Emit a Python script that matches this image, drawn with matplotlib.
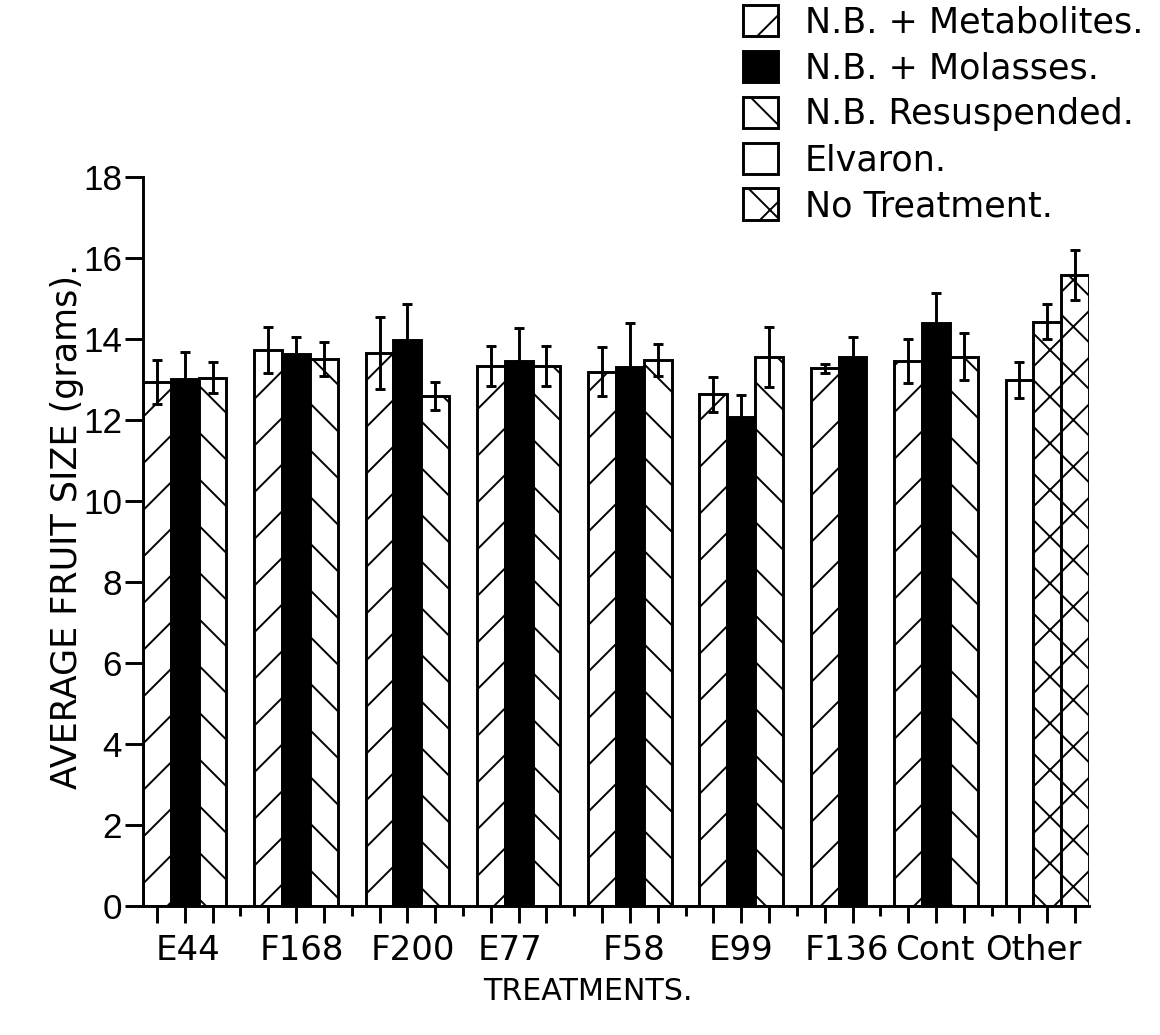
import numpy as np
import matplotlib
matplotlib.use("Agg")
import matplotlib.pyplot as plt
from matplotlib.patches import Patch

# ---------------- data ----------------
categories = ["E44", "F168", "F200", "E77", "F58", "E99", "F136", "Cont", "Other"]
series_names = ["N.B. + Metabolites.", "N.B. + Molasses.", "N.B. Resuspended.",
                "Elvaron.", "No Treatment."]

nan = np.nan
metabolites     = [12.94, 13.74, 13.67, 13.34, 13.20, 12.64, 13.28, 13.46, nan]
metabolites_err = [0.55, 0.57, 0.89, 0.49, 0.60, 0.43, 0.12, 0.55, nan]
molasses        = [13.01, 13.64, 13.98, 13.46, 13.32, 12.07, 13.55, 14.41, nan]
molasses_err    = [0.68, 0.41, 0.89, 0.81, 1.07, 0.55, 0.50, 0.74, nan]
resuspended     = [13.05, 13.51, 12.60, 13.34, 13.49, 13.56, nan, 13.57, nan]
resuspended_err = [0.38, 0.43, 0.35, 0.49, 0.40, 0.74, nan, 0.58, nan]
elvaron         = [nan, nan, nan, nan, nan, nan, nan, nan, 12.99]
elvaron_err     = [nan, nan, nan, nan, nan, nan, nan, nan, 0.45]
no_treatment     = [14.43, 15.59]   # both in "Other"
no_treatment_err = [0.43, 0.62]

y_ticks = [0, 2, 4, 6, 8, 10, 12, 14, 16, 18]

# ---------------- style ----------------
plt.rcParams['font.family'] = ['DejaVu Sans']
plt.rcParams['hatch.linewidth'] = 1.0
DPI = 140
styles = [dict(facecolor="white", hatch="/"),
          dict(facecolor="black", hatch=None),
          dict(facecolor="white", hatch="\\"),
          dict(facecolor="white", hatch=None),
          dict(facecolor="white", hatch="x")]
# small horizontal nudges of category labels (in bar slots), as in the original
label_nudge = [0.1, 0.2, 0.2, -0.3, 0.15, 0.0, -0.2, -0.05, -0.5]

# ---------------- layout of slots ----------------
per_cat = [metabolites, molasses, resuspended, elvaron]
per_cat_err = [metabolites_err, molasses_err, resuspended_err, elvaron_err]
xs = {k: [] for k in range(5)}
vs = {k: [] for k in range(5)}
es = {k: [] for k in range(5)}
bar_slots, gap_slots, label_pos = [], [], []
slot = 0
for gi, cat in enumerate(categories):
    members = []
    for si in range(4):
        v = per_cat[si][gi]
        if not np.isnan(v):
            members.append((si, v, per_cat_err[si][gi]))
    if cat == "Other":
        for v, e in zip(no_treatment, no_treatment_err):
            members.append((4, v, e))
    start = slot
    for si, v, e in members:
        xs[si].append(slot); vs[si].append(v); es[si].append(e)
        bar_slots.append(slot)
        slot += 1
    label_pos.append(start + 1 + label_nudge[gi])
    if gi < len(categories) - 1:
        gap_slots.append(slot)
        slot += 1

fig = plt.figure(figsize=(1160 / DPI, 1035 / DPI), dpi=DPI)
ax = fig.add_axes([143 / 1160, 1 - 906 / 1035, (1089 - 143) / 1160, (906 - 177.3) / 1035])

handles = []
for si in range(5):
    st = styles[si]
    ax.bar(xs[si], vs[si], width=1.0, facecolor=st["facecolor"], hatch=st["hatch"],
           edgecolor="black", linewidth=1.5, zorder=2)
    ax.errorbar(xs[si], vs[si], yerr=es[si], fmt="none", ecolor="black",
                elinewidth=1.5, capsize=2.6, capthick=1.5, zorder=3)
    handles.append(Patch(facecolor=st["facecolor"], hatch=st["hatch"],
                         edgecolor="black", linewidth=1.5, label=series_names[si]))

ax.set_xlim(-0.5, slot - 0.5)
ax.set_ylim(0, 18)
ax.set_yticks(y_ticks)
ax.set_yticklabels([str(t) for t in y_ticks], fontsize=18, family="Liberation Sans")

ax.set_xticks(bar_slots)
ax.set_xticklabels([])
ax.set_xticks(gap_slots, minor=True)

sec = ax.secondary_xaxis("bottom")
sec.set_xticks(label_pos)
sec.set_xticklabels(categories, fontsize=17.5)
sec.tick_params(axis="x", length=0, pad=14.2)
sec.spines["bottom"].set_visible(False)

for side in ("top", "right"):
    ax.spines[side].set_visible(False)
for side in ("left", "bottom"):
    ax.spines[side].set_linewidth(1.5)
ax.tick_params(axis="y", which="major", length=9.3, width=1.5, pad=1.5)
ax.tick_params(axis="x", which="major", length=8.7, width=1.5)
ax.tick_params(axis="x", which="minor", length=5, width=1.5)

ax.set_ylabel("AVERAGE FRUIT SIZE (grams).", fontsize=18)
ax.yaxis.set_label_coords(-0.062, 0.521)
ax.set_xlabel("TREATMENTS.", fontsize=15.5)
ax.xaxis.set_label_coords(0.470, -0.097)

fig.legend(handles=handles, loc="upper left", bbox_to_anchor=(743 / 1160, 1 - 5 / 1035),
           frameon=False, fontsize=18, handlelength=1.0, handleheight=1.0,
           handletextpad=0.77, labelspacing=0.32, borderpad=0, borderaxespad=0)

fig.savefig("out.png", dpi=DPI, facecolor="white")
